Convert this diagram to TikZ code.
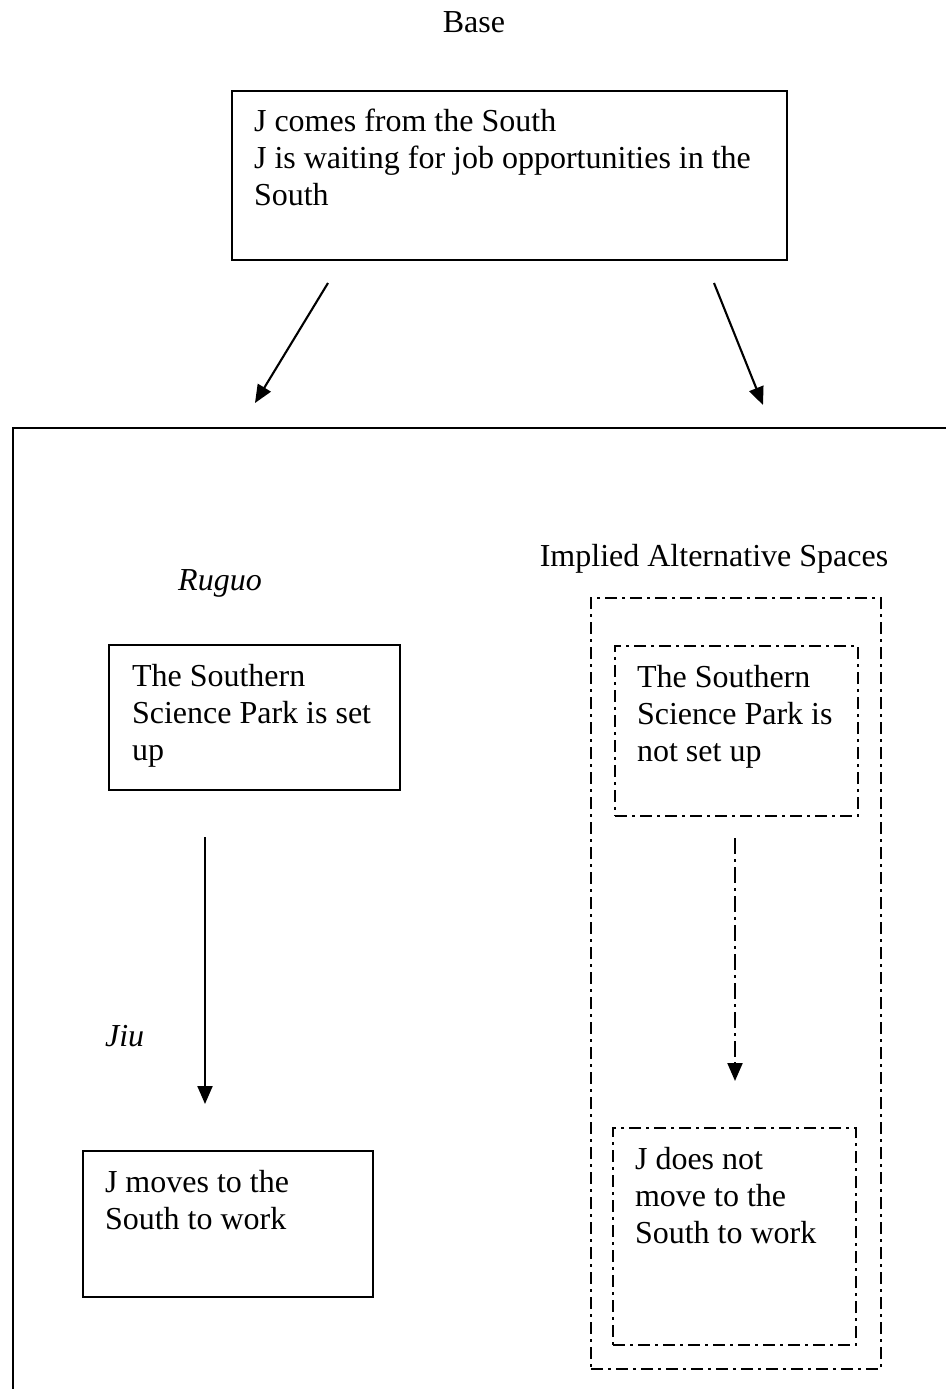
\documentclass[tikz,border=0pt]{standalone}
\usepackage{fontspec}
\setmainfont{Liberation Serif}
\usetikzlibrary{arrows.meta}
\begin{document}
\begin{tikzpicture}[x=1pt,y=-1pt,line width=2.1pt,
  % multi-line text is anchored at the baseline of its last line
  txt/.style={anchor=base west,inner sep=0pt,align=left,font=\fontsize{32}{37}\selectfont},
  lbl/.style={anchor=base,inner sep=0pt,font=\fontsize{32}{37}\selectfont},
  box/.style={draw,rectangle,inner sep=0pt,outer sep=0pt},
  dd/.style={dash pattern=on 12pt off 5pt on 3pt off 5pt},
  ddbox/.style={box,dd},
  arr/.style={-{Triangle[length=18pt,width=15pt]}}]
\useasboundingbox (0,0) rectangle (945,1389);

% heading
\node[lbl] (title) at (474,33) {Base};

% base space
\node[box,minimum width=555pt,minimum height=169pt] (basebox) at (509.5,175.5) {};
\node[txt] (basetxt) at (253,205) {J comes from the South\\J is waiting for job opportunities in the\\South};

% arrows into the lower frame
\coordinate (la) at (328,283);
\coordinate (lb) at (255,403);
\coordinate (ra) at (714,283);
\coordinate (rb) at (763,405);
\draw[arr] (la) -- (lb);
\draw[arr] (ra) -- (rb);

% lower frame (open to the right and bottom)
\coordinate (fr) at (950,428);
\coordinate (ftl) at (13,428);
\coordinate (fb) at (13,1395);
\draw (fr) -- (ftl) -- (fb);

% left column
\node[lbl,font=\fontsize{32}{37}\selectfont\itshape] (ruguo) at (220,590) {Ruguo};
\node[box,minimum width=291pt,minimum height=145pt] (lb1) at (254.5,717.5) {};
\node[txt] (lt1) at (131,760) {The Southern\\Science Park is set\\up};
\coordinate (lar1) at (205,837);
\coordinate (lar2) at (205,1104);
\draw[arr] (lar1) -- (lar2);
\node[txt,font=\fontsize{32}{37}\selectfont\itshape] (jiu) at (104,1046) {Jiu};
\node[box,minimum width=290pt,minimum height=146pt] (lb2) at (228,1224) {};
\node[txt] (lt2) at (104,1229) {J moves to the\\South to work};

% right column: implied alternative spaces
\node[lbl] (alt) at (714,566) {Implied Alternative Spaces};
\node[ddbox,minimum width=290pt,minimum height=771pt] (outer) at (736,983.5) {};
\node[ddbox,minimum width=243pt,minimum height=170pt] (rb1) at (736.5,731) {};
\node[txt] (rt1) at (636,761) {The Southern\\Science Park is\\not set up};
\coordinate (rar1) at (735,838);
\coordinate (rar2) at (735,1081);
\draw[arr,dash pattern=on 16pt off 5pt on 3pt off 5pt] (rar1) -- (rar2);
\node[ddbox,minimum width=243pt,minimum height=217pt] (rb2) at (734.5,1236.5) {};
\node[txt] (rt2) at (634,1243) {J does not\\move to the\\South to work};
\end{tikzpicture}
\end{document}
